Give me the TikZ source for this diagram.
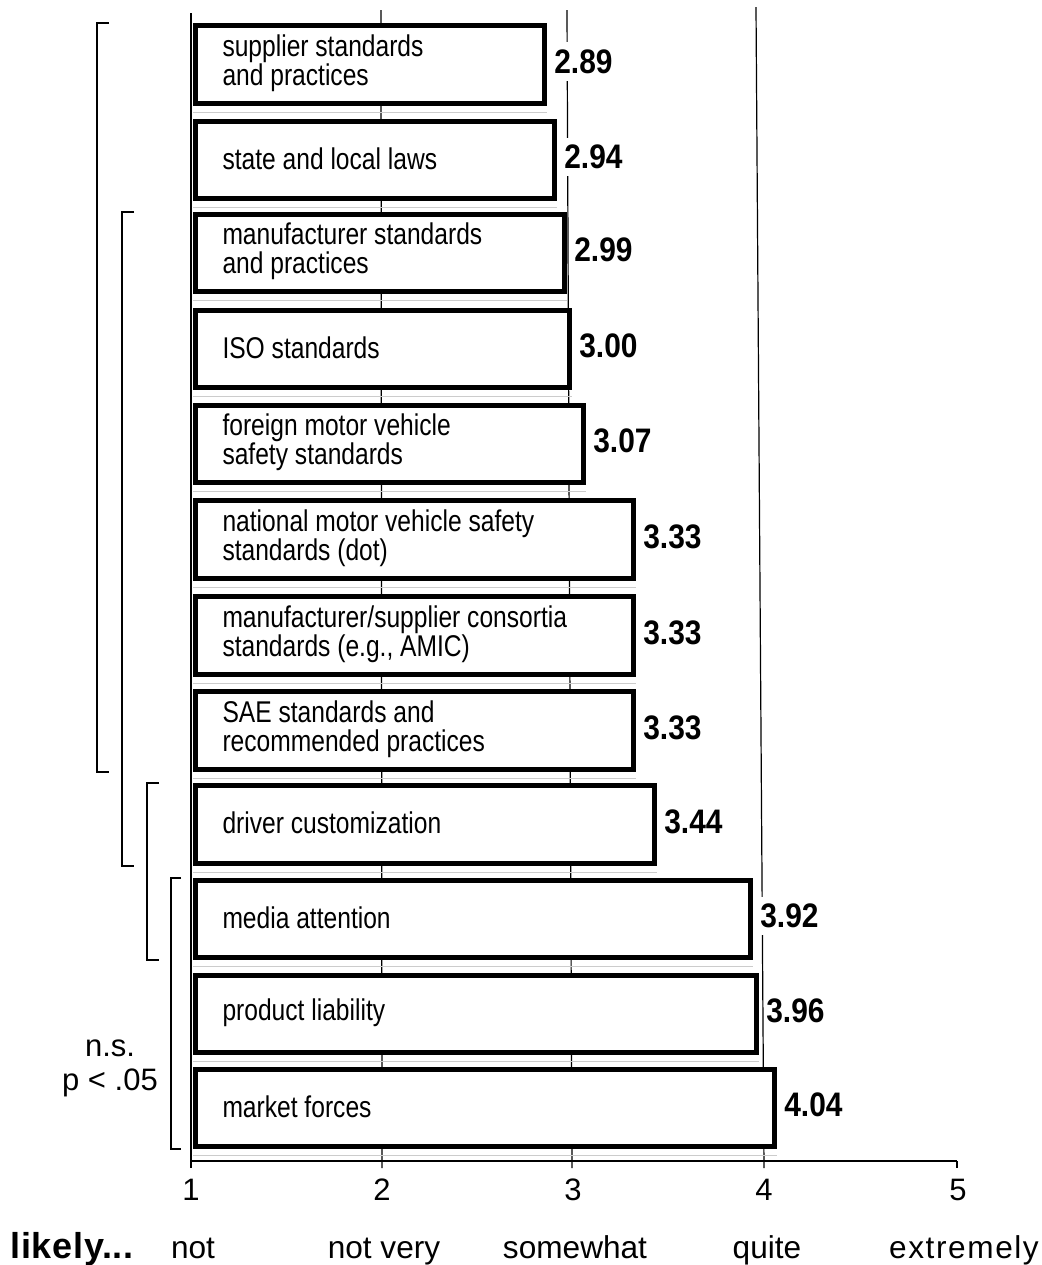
\documentclass[tikz,border=0pt]{standalone}
\usepackage{fontspec}
\setmainfont{Liberation Sans}
\newfontfamily\narrowfont{Liberation Sans}[FakeStretch=0.82]
\newfontfamily\valuefont{Liberation Sans}[FakeStretch=0.88]

\tikzset{
  barbox/.style={draw, line width=2.4pt, fill=white, inner sep=0pt},
  barlabel/.style={anchor=west, inner sep=0pt, align=left,
    font={\narrowfont\fontsize{15}{14.6}\selectfont\lineskiplimit=-20pt}},
  valuelabel/.style={anchor=west, fill=white, inner xsep=1pt, inner ysep=3.5pt,
    font={\valuefont\bfseries\fontsize{17}{19}\selectfont}},
  gridline/.style={line width=0.6pt},
  bracket/.style={line width=1pt},
  ghost/.style={gray!40, line width=0.5pt},
  axislabel/.style={anchor=base, inner sep=0pt, font={\fontsize{15.5}{18}\selectfont}},
  scalelabel/.style={anchor=base, inner sep=0pt, font={\fontsize{15.8}{18}\selectfont}},
}

% one bar: name, top, bottom, right edge (px), value, label
\newcommand\drawbar[6]{%
  \node[barbox, minimum width={(#4-198)*0.5pt}, minimum height={(#3-#2-5)*0.5pt}]
    (#1) at ({(193+#4)/2},{(#2+#3)/2}) {};
  \node[barlabel] (#1t) at ([xshift=14.5pt,yshift=0.8pt]#1.west) {#6};
  \node[valuelabel] (#1v) at ([xshift=2.5pt,yshift=1.5pt]#1.east) {#5};
  \draw[ghost] ([yshift=-3.5pt]#1.south west) -- ([yshift=-3.5pt]#1.south east);
}

\begin{document}
\begin{tikzpicture}[x=0.5pt,y=-0.5pt]
\fill[white] (0,0) rectangle (1042,1265);
\useasboundingbox (0,0) rectangle (1042,1265);

% scale points on the axis
\coordinate (t1) at (191,1161);
\coordinate (t2) at (382,1161);
\coordinate (t3) at (572,1161);
\coordinate (t4) at (764,1161);
\coordinate (t5) at (957,1161);

% vertical grid lines
\coordinate (g1) at (191,13);
\coordinate (g2) at (381,10);
\coordinate (g3) at (567,10);
\coordinate (g4) at (756,7);
\draw[gridline] (g1) -- ([yshift=-3.5pt]t1);
\draw[gridline] (g2) -- ([yshift=-3.5pt]t2);
\draw[gridline] (g3) -- ([yshift=-3.5pt]t3);
\draw[gridline] (g4) -- ([yshift=-3.5pt]t4);
\draw[gridline] (t5) -- ([yshift=-3.5pt]t5);
\draw[gridline] (t1) -- (t5);

% bars
\drawbar{b1}{23}{106}{547}{2.89}{supplier standards\\and practices}
\drawbar{b2}{119}{201}{557}{2.94}{state and local laws}
\drawbar{b3}{212}{294}{567}{2.99}{manufacturer standards\\and practices}
\drawbar{b4}{308}{390}{572}{3.00}{ISO standards}
\drawbar{b5}{403}{485}{586}{3.07}{foreign motor vehicle\\safety standards}
\drawbar{b6}{498}{581}{636}{3.33}{national motor vehicle safety\\standards (dot)}
\drawbar{b7}{594}{677}{636}{3.33}{manufacturer/supplier consortia\\standards (e.g., AMIC)}
\drawbar{b8}{689}{772}{636}{3.33}{SAE standards and\\recommended practices}
\drawbar{b9}{783}{866}{657}{3.44}{driver customization}
\drawbar{b10}{878}{960}{753}{3.92}{media attention}
\drawbar{b11}{973}{1055}{759}{3.96}{product liability}
\drawbar{b12}{1067}{1149}{777}{4.04}{market forces}

% significance brackets
\coordinate (kA) at (97,0);
\coordinate (kB) at (122,0);
\coordinate (kC) at (147,0);
\coordinate (kD) at (171,0);
\draw[bracket] ([xshift=6pt]kA |- b1.north) -- (kA |- b1.north) -- (kA |- b8.south) -- ++(12,0);
\draw[bracket] ([xshift=6pt]kB |- b3.north) -- (kB |- b3.north) -- (kB |- b9.south) -- ++(12,0);
\draw[bracket] ([xshift=6pt]kC |- b9.north) -- (kC |- b9.north) -- (kC |- b10.south) -- ++(12,0);
\draw[bracket] ([xshift=5pt]kD |- b10.north) -- (kD |- b10.north) -- (kD |- b12.south) -- ++(10,0);

\node[axislabel] (ns) at (110,1056) {n.s.};
\node[axislabel] (pv) at (110,1090) {p < .05};

% tick labels
\node[axislabel] (a1) at (191,1200) {1};
\node[axislabel] (a2) at (382,1200) {2};
\node[axislabel] (a3) at (573,1200) {3};
\node[axislabel] (a4) at (764,1200) {4};
\node[axislabel] (a5) at (958,1200) {5};

% verbal scale
\node[scalelabel, font={\bfseries\fontsize{18}{20}\selectfont\addfontfeatures{LetterSpace=2}}] (lk) at (72,1258) {likely...};
\node[scalelabel] (s1) at (193,1258) {not};
\node[scalelabel] (s2) at (384,1258) {not very};
\node[scalelabel] (s3) at (575,1258) {somewhat};
\node[scalelabel] (s4) at (767,1258) {quite};
\node[scalelabel, font={\fontsize{15.8}{18}\selectfont\addfontfeatures{LetterSpace=5}}] (s5) at (964,1258) {extremely};
\end{tikzpicture}
\end{document}
